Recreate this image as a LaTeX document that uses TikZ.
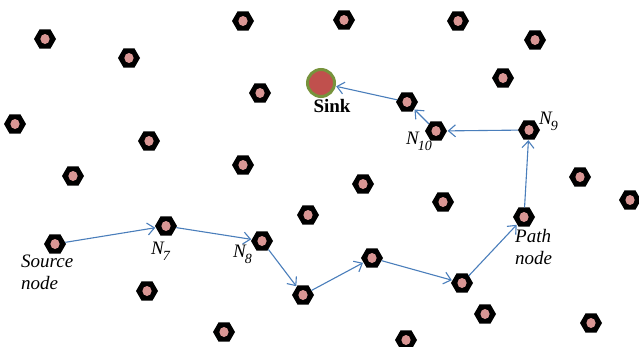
\documentclass[tikz,border=0pt]{standalone}
\usepackage{fontspec}
\setmainfont{Liberation Serif}
\usetikzlibrary{shapes.geometric,arrows.meta}
\definecolor{nodepink}{RGB}{217,150,148}
\definecolor{sinkred}{RGB}{192,80,77}
\definecolor{sinkgreen}{RGB}{119,147,60}
\definecolor{arrowblue}{RGB}{74,126,187}
\newcommand{\Nlab}[1]{\textit{N}\kern-1pt\raisebox{-6pt}{\textit{\fontsize{14}{16}\selectfont #1}}}
\tikzset{
  sn/.style={regular polygon, regular polygon sides=6, fill=black, minimum size=22pt, inner sep=0pt,
    path picture={\fill[nodepink] (path picture bounding box.center) ellipse (4.6pt and 5pt);}},
  sinknode/.style={circle, fill=sinkred, draw=sinkgreen, line width=3pt, minimum size=27pt, inner sep=0pt},
  link/.style={draw=arrowblue, line width=1.1pt, -{Straight Barb[length=7pt,width=12pt]}, shorten >=0.5pt},
  lab/.style={font=\fontsize{19}{22}\selectfont\itshape, align=left, inner sep=0pt}
}
\begin{document}
\begin{tikzpicture}[x=1pt,y=-1pt]
\useasboundingbox (0,0) rectangle (639,346);
% scattered nodes
\node[sn] (a1) at (45,39) {};
\node[sn] (a2) at (129,58) {};
\node[sn] (a3) at (243,21) {};
\node[sn] (a4) at (344,20) {};
\node[sn] (a5) at (458,21) {};
\node[sn] (a6) at (535,40) {};
\node[sn] (a7) at (503,78) {};
\node[sn] (a8) at (260,93) {};
\node[sn] (a9) at (15,124) {};
\node[sn] (a10) at (149,141) {};
\node[sn] (a11) at (243,165) {};
\node[sn] (a12) at (73,176) {};
\node[sn] (a13) at (363,184) {};
\node[sn] (a14) at (580,177) {};
\node[sn] (a15) at (630,200) {};
\node[sn] (a16) at (443,202) {};
\node[sn] (a17) at (308,215) {};
\node[sn] (a18) at (147,291) {};
\node[sn] (a19) at (485,314) {};
\node[sn] (a20) at (591,323) {};
\node[sn] (a21) at (224,332) {};
\node[sn] (a22) at (406,340) {};
% path nodes
\node[sn] (src) at (55,244) {};
\node[sn] (n7) at (166,226) {};
\node[sn] (n8) at (262,241) {};
\node[sn] (p1) at (303,295) {};
\node[sn] (p2) at (372,258) {};
\node[sn] (p3) at (462,283) {};
\node[sn] (pn) at (524,217) {};
\node[sn] (n9) at (529,130) {};
\node[sn] (n10) at (436,131) {};
\node[sn] (p4) at (407,102) {};
\node[sinknode] (sink) at (321,83) {};
% labels
\node[lab, anchor=north west] (lsrc) at (21,255) {Source\\node};
\node[lab, anchor=north west] (l7) at (151,242) {\Nlab{7}};
\node[lab, anchor=north west] (l8) at (233,245) {\Nlab{8}};
\node[lab, anchor=north west] (lpn) at (515,229) {Path\\node};
\node[lab, anchor=north west] (l9) at (539,112) {\Nlab{9}};
\node[lab, anchor=north west] (l10) at (406,132) {\Nlab{10}};
\node[font=\fontsize{19}{22}\selectfont\bfseries, inner sep=0pt] (lsink) at (332,106) {Sink};
% connectors
\draw[link] (src) -- (n7);
\draw[link] (n7) -- (n8);
\draw[link] (n8) -- (p1);
\draw[link] (p1) -- (p2);
\draw[link] (p2) -- (p3);
\draw[link] (p3) -- (pn);
\draw[link] (pn) -- (n9);
\draw[link] (n9) -- (n10);
\draw[link] (n10) -- (p4);
\draw[link] (p4) -- (sink);
\end{tikzpicture}
\end{document}
